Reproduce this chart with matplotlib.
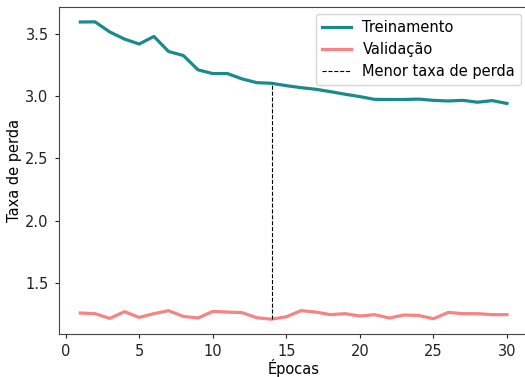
import matplotlib
matplotlib.use("Agg")
import matplotlib.pyplot as plt
import numpy as np

epochs = list(range(1, 31))
treino = [3.594, 3.595, 3.514, 3.457, 3.417, 3.478, 3.357, 3.325, 3.210, 3.180,
          3.180, 3.137, 3.107, 3.102, 3.083, 3.067, 3.054, 3.035, 3.014, 2.995,
          2.973, 2.972, 2.972, 2.975, 2.965, 2.960, 2.965, 2.950, 2.963, 2.940]
validacao = [1.258, 1.253, 1.215, 1.269, 1.223, 1.253, 1.277, 1.231, 1.218, 1.271,
             1.266, 1.261, 1.220, 1.209, 1.228, 1.277, 1.266, 1.245, 1.253, 1.234,
             1.245, 1.218, 1.242, 1.239, 1.212, 1.263, 1.253, 1.253, 1.245, 1.245]

plt.rcParams['font.family'] = ['DejaVu Sans']
plt.rcParams['font.size'] = 10.5

fig = plt.figure(figsize=(5.25, 3.77), dpi=100)
ax_w = (528.3 - 59) / 525
ax = fig.add_axes([59/525, 43/377, ax_w, 327/377])

ax.plot(epochs, treino, color='#1a8a8c', lw=2.3, label='Treinamento')
ax.plot(epochs, validacao, color='#f78383', lw=2.3, label='Validação')
imin = int(np.argmin(validacao))
ax.vlines(epochs[imin], validacao[imin], treino[imin], colors='k',
          linestyles='--', lw=0.8, label='Menor taxa de perda')

ax.set_xlabel('Épocas', va='center')
ax.set_ylabel('Taxa de perda', va='center')
ax.xaxis.set_label_coords(0.5, (334 - 368) / 327)
ax.yaxis.set_label_coords((15 - 59) / (528.3 - 59), 0.5)
ax.set_xticks([0, 5, 10, 15, 20, 25, 30])
ax.set_yticks([1.5, 2.0, 2.5, 3.0, 3.5])
for s in ax.spines.values():
    s.set_color('#444444')
ax.tick_params(colors='#222222', length=3, pad=4.5)
ax.legend(loc='upper right', bbox_to_anchor=((521-59)/(528.3-59), 1 - 7/327),
          borderaxespad=0.0, fontsize=10.5)

fig.savefig('out.png', dpi=100)
